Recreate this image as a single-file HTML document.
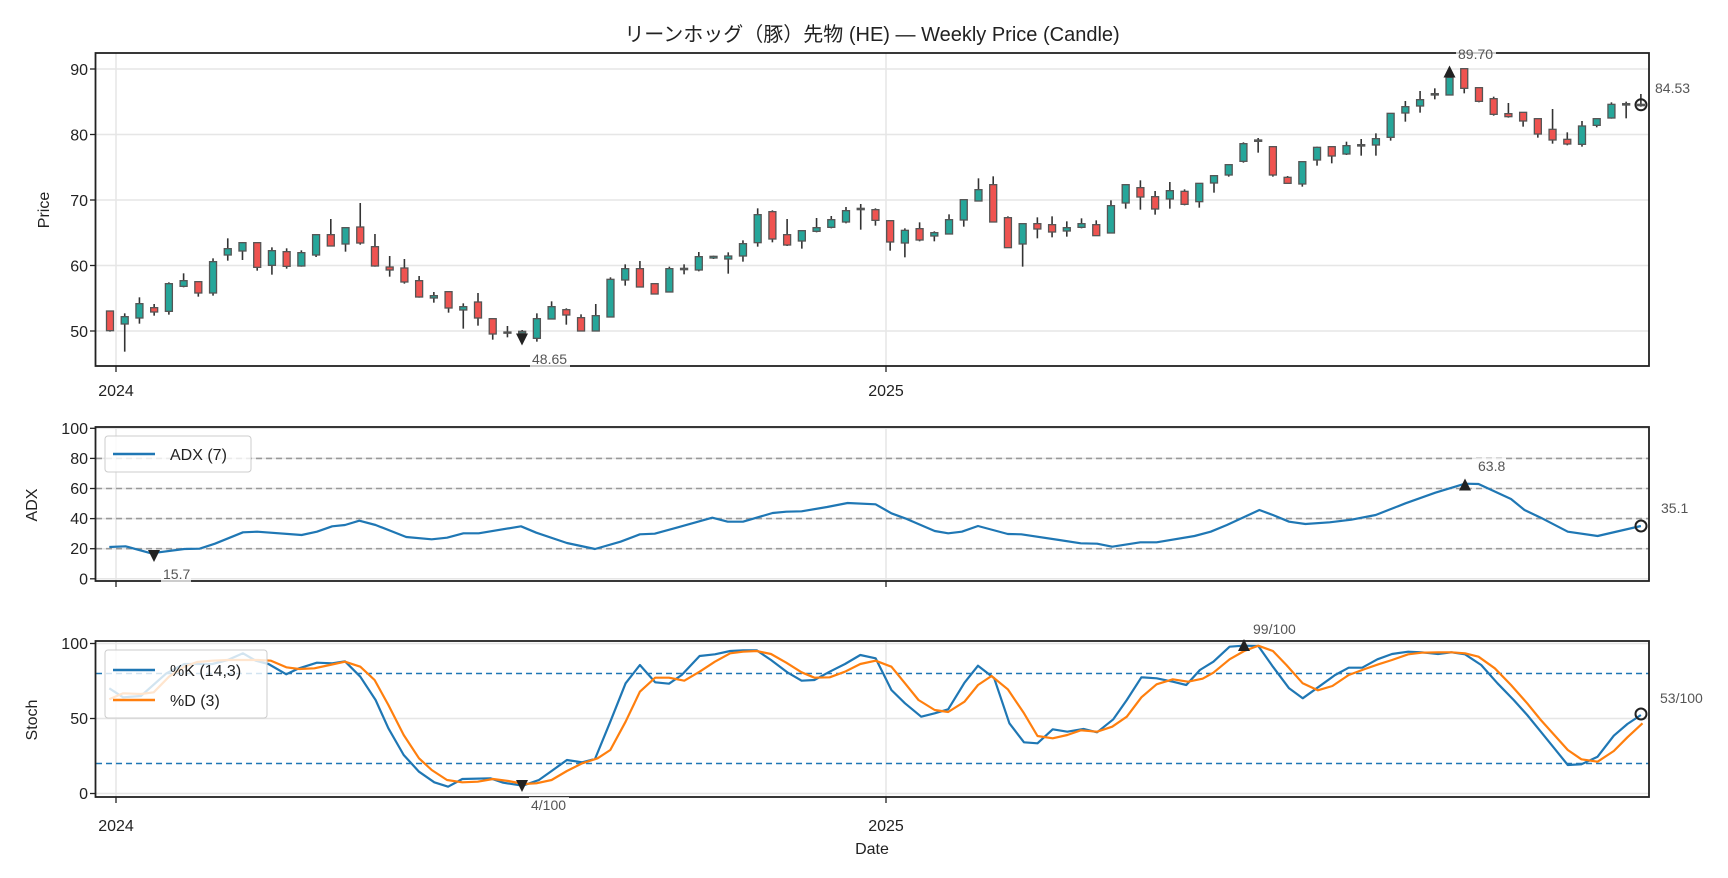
<!DOCTYPE html>
<html><head><meta charset="utf-8">
<style>
html,body{margin:0;padding:0;background:#fff;}
svg{display:block;font-family:"Liberation Sans","Noto Sans CJK JP",sans-serif;}
.t{font-size:16px;fill:#222;}
.a{font-size:14px;fill:#555;}
</style></head>
<body>
<svg id="s" width="1728" height="878" viewBox="0 0 1728 878" xmlns="http://www.w3.org/2000/svg">
<rect width="1728" height="878" fill="#fff"/>
<g id="grid" stroke="#e6e6e6" stroke-width="1.5"></g>
<g id="ref"></g>
<g id="series"></g>
<g id="frames" fill="none" stroke="#222" stroke-width="1.8">
<rect x="95.5" y="53" width="1553.5" height="313"/>
<rect x="95.5" y="427" width="1553.5" height="154"/>
<rect x="95.5" y="641" width="1553.5" height="156"/>
</g>
<g id="ticks" stroke="#222" stroke-width="1.3"></g>
<text x="872" y="41" text-anchor="middle" style="font-size:20px;fill:#222">リーンホッグ（豚）先物 (HE) — Weekly Price (Candle)</text>
<text class="t" transform="translate(49,210) rotate(-90)" text-anchor="middle">Price</text>
<text class="t" transform="translate(37,505) rotate(-90)" text-anchor="middle">ADX</text>
<text class="t" transform="translate(37,720) rotate(-90)" text-anchor="middle">Stoch</text>
<text class="t" x="872" y="854" text-anchor="middle">Date</text>
<g class="t" text-anchor="middle">
<text x="116" y="396">2024</text><text x="886" y="396">2025</text>
<text x="116" y="831">2024</text><text x="886" y="831">2025</text>
</g>
<g class="t" text-anchor="end" id="ylab">
<text x="88" y="75">90</text><text x="88" y="140.5">80</text><text x="88" y="206">70</text><text x="88" y="271.5">60</text><text x="88" y="337">50</text>
<text x="88" y="434">100</text><text x="88" y="464">80</text><text x="88" y="494">60</text><text x="88" y="524">40</text><text x="88" y="554">20</text><text x="88" y="584.5">0</text>
<text x="88" y="649">100</text><text x="88" y="724">50</text><text x="88" y="799">0</text>
</g>
<g id="ann"></g>
<rect x="105" y="436" width="146" height="36" rx="3" fill="#fff" fill-opacity="0.8" stroke="#ccc"/>
<line x1="113" y1="454" x2="155" y2="454" stroke="#1f77b4" stroke-width="2.5"/>
<text class="t" x="170" y="460">ADX (7)</text>
<rect x="105" y="650" width="162" height="68" rx="3" fill="#fff" fill-opacity="0.8" stroke="#ccc"/>
<line x1="113" y1="670" x2="155" y2="670" stroke="#1f77b4" stroke-width="2.5"/>
<text class="t" x="170" y="676">%K (14,3)</text>
<line x1="113" y1="700" x2="155" y2="700" stroke="#ff7f0e" stroke-width="2.5"/>
<text class="t" x="170" y="706">%D (3)</text>
</svg>
<script>
var NS="http://www.w3.org/2000/svg";
function el(p,t,a){var e=document.createElementNS(NS,t);for(var k in a)e.setAttribute(k,a[k]);document.getElementById(p).appendChild(e);return e;}
[116,886].forEach(function(x){[[53,366],[427,581],[641,797]].forEach(function(r){el('grid','line',{x1:x,x2:x,y1:r[0],y2:r[1]});});
 [[366,372],[581,587],[797,803]].forEach(function(r){el('ticks','line',{x1:x,x2:x,y1:r[0],y2:r[1]});});});
var py=[69,134.5,200,265.5,331],ay=[428.3,458.4,488.5,518.6,548.7,578.8],sy=[643.5,718.5,793.5];
py.concat(ay,sy).forEach(function(y){el('grid','line',{x1:96,x2:1649,y1:y,y2:y});el('ticks','line',{x1:90,x2:95,y1:y,y2:y});});
[458.4,488.5,518.6,548.7].forEach(function(y){el('ref','line',{x1:96,x2:1649,y1:y,y2:y,stroke:'#999','stroke-width':1.6,'stroke-dasharray':'6,4'});});
[673.5,763.5].forEach(function(y){el('ref','line',{x1:96,x2:1649,y1:y,y2:y,stroke:'#1f77b4','stroke-width':1.6,'stroke-dasharray':'6,4'});});
var C=[
[393,452,393,455,'r'],[410,432,400,515,'g'],[371,414,352,431,'g'],[383,396,372,407,'r'],[311,394,307,404,'g'],[302,319,280,322,'g'],[305,339,305,350,'r'],[245,339,235,347,'g'],[206,225,175,242,'g'],[188,213,186,240,'g'],[188,262,188,272,'r'],[212,256,202,284,'g'],[215,259,205,266,'r'],[218,258,211,260,'g'],[164,225,164,231,'g'],[164,198,117,198,'r'],[143,192,143,215,'g'],[141,189,69,194,'r'],[200,258,162,260,'r'],[261,270,228,290,'r'],[264,306,237,311,'r'],[302,351,288,353,'r'],[347,354,336,368,'g'],[335,384,335,398,'r'],[380,390,370,446,'g'],[366,414,339,437,'r'],[416,462,416,479,'r'],
[516,519,498,532,'g'],[514,519,510,522,'g'],[476,535,460,545,'g'],[440,477,424,477,'g'],[449,465,445,494,'r'],[473,513,463,513,'r'],[467,513,432,513,'g'],[358,471,352,471,'g'],[326,360,313,377,'g'],[326,381,303,381,'r'],[371,402,371,402,'r'],[326,396,320,396,'g'],[325,329,313,343,'g'],[290,330,276,334,'g'],[289,294,287,297,'g'],[288,297,277,341,'g'],[251,288,241,305,'g'],[164,248,145,260,'g'],[155,237,151,247,'r'],[224,255,177,258,'r'],[212,243,212,266,'g'],[203,214,174,217,'g'],[179,202,168,205,'g'],[152,186,141,190,'g'],[145,149,132,209,'g'],[149,181,145,197,'r'],
[302,366,302,392,'r'],[331,369,325,412,'g'],[326,360,307,364,'r'],[338,348,334,364,'g'],[299,342,283,342,'g'],[239,300,239,320,'g'],[209,243,175,243,'g'],[194,306,169,306,'r'],[293,383,289,383,'r'],[311,372,311,440,'g'],[311,327,292,355,'r'],[314,336,289,352,'r'],[323,333,304,350,'g'],[311,322,295,325,'g'],[314,347,301,347,'r'],[257,339,241,339,'g'],[194,249,194,266,'g'],[203,231,181,269,'r'],[230,267,213,284,'r'],[212,237,186,266,'g'],[214,253,208,256,'r'],[190,245,190,263,'g'],[167,189,165,218,'g'],[134,165,134,170,'g'],[71,124,67,128,'g'],[60,64,54,98,'g'],[80,165,78,170,'r'],
[412,430,408,430,'r'],[365,432,365,440,'g'],[322,360,320,377,'g'],[320,348,320,370,'r'],[317,342,305,345,'g'],[314,318,297,347,'g'],[296,315,280,347,'g'],[220,292,220,302,'g'],[200,219,183,245,'g'],[179,198,153,218,'g'],[161,165,145,178,'g'],[112,165,100,165,'g'],[86,145,86,160,'r'],[143,184,143,187,'r'],[176,223,170,227,'r'],[221,230,189,233,'r'],[217,243,217,260,'r'],[236,282,236,293,'r'],[268,300,207,311,'r'],[298,312,277,316,'r'],[258,313,243,320,'g'],[236,256,236,262,'g'],[193,234,187,236,'g'],[191,195,185,235,'g'],[193,197,162,200,'g']];
C.forEach(function(c,i){var y0=i<27?180:i<53?160:i<80?120:40;var x=110+i*14.72;
 var bt=y0+c[0]/3,bb=y0+c[1]/3,wt=y0+c[2]/3,wb=y0+c[3]/3;if(bb-bt<1.2){bb=bt+1.2;}
 el('series','line',{x1:x,x2:x,y1:wt,y2:wb,stroke:'#333','stroke-width':1.6});
 el('series','rect',{x:x-3.5,y:bt,width:7,height:bb-bt,fill:c[4]=='g'?'#26a69a':'#ef5350',stroke:'#555','stroke-width':1.3});});
function pl(pts,col){var s=pts.map(function(q){return q[0].toFixed(1)+','+q[1].toFixed(1);}).join(' ');
 el('series','polyline',{points:s,fill:'none',stroke:col,'stroke-width':2.2,'stroke-linejoin':'round'});}
var L8=function(p){return[95+p[0]/1.96,425+p[1]/3];},R9=function(p){return[880.6+p[0]/1.848,425+p[1]/3];};
var L10=function(p){return[95+p[0]/1.96,640+p[1]/3];},R11=function(p){return[880.6+p[0]/1.848,620+p[1]/3];};
function join(a,b){return a.filter(function(q){return q[0]<=886;}).concat(b.filter(function(q){return q[0]>886;}));}
var adxL=[[28,366],[60,364],[110,385],[175,372],[205,371],[235,356],[290,322],[318,320],[405,330],[435,320],[465,304],[490,300],[518,287],[550,300],[610,336],[660,343],[690,338],[722,325],[752,325],[835,304],[865,323],[925,354],[980,372],[1030,350],[1068,328],[1097,326],[1140,308],[1210,278],[1240,290],[1270,290],[1328,264],[1355,260],[1385,259],[1435,246],[1475,234],[1530,238],[1568,270]];
var adxR=[[0,245],[20,265],[45,280],[100,318],[125,325],[150,320],[180,303],[235,327],[260,328],[330,345],[370,355],[400,356],[428,365],[480,352],[510,352],[580,333],[610,320],[640,300],[700,255],[725,270],[755,290],[785,297],[830,292],[870,284],[915,270],[970,235],[1025,203],[1080,176],[1105,177],[1165,222],[1190,255],[1220,278],[1270,320],[1325,333],[1405,303]];
pl(join(adxL.map(L8),adxR.map(R9)),'#1f77b4');
var kL=[[28,145],[55,172],[90,168],[140,100],[175,72],[230,72],[260,60],[290,40],[315,62],[340,72],[375,103],[400,85],[435,68],[465,70],[490,64],[520,110],[550,180],[575,265],[605,345],[635,395],[665,427],[692,440],[720,417],[775,415],[800,428],[838,437],[870,420],[895,393],[925,360],[955,367],[980,357],[1010,245],[1040,130],[1068,75],[1098,127],[1125,131],[1150,105],[1185,48],[1215,43],[1245,33],[1270,31],[1297,31],[1325,60],[1358,98],[1385,122],[1410,120],[1440,95],[1470,72],[1500,45],[1530,55],[1555,125],[1568,150]];
var dL=[[28,178],[55,160],[90,162],[115,157],[145,110],[175,80],[200,66],[230,62],[260,60],[290,60],[320,60],[345,62],[375,82],[400,87],[430,85],[460,75],[490,65],[520,80],[548,120],[575,195],[605,285],[635,355],[660,390],[690,420],[720,427],[750,425],[780,417],[810,423],[840,432],[865,430],[895,420],[925,393],[955,370],[985,355],[1010,330],[1040,245],[1068,155],[1098,113],[1125,113],[1155,122],[1185,95],[1215,65],[1245,40],[1270,35],[1297,33],[1325,42],[1355,68],[1385,97],[1410,113],[1440,112],[1470,95],[1500,72],[1530,62],[1568,98]];
var kR=[[0,135],[20,210],[45,250],[75,290],[100,280],[125,268],[155,188],[180,137],[210,175],[238,310],[265,367],[290,370],[318,328],[345,335],[375,327],[400,337],[430,298],[455,240],[482,172],[510,175],[540,185],[565,195],[590,150],[615,125],[645,80],[670,77],[698,78],[725,140],[755,205],[780,235],[810,200],[840,165],[865,143],[890,143],[918,118],[945,102],[975,95],[1000,97],[1030,102],[1055,97],[1080,103],[1110,135],[1140,190],[1170,240],[1195,285],[1220,335],[1245,385],[1270,435],[1295,433],[1325,410],[1355,347],[1380,312],[1405,285]];
var dR=[[0,125],[20,140],[45,190],[70,240],[100,270],[125,276],[155,245],[180,195],[205,168],[235,208],[265,280],[290,348],[318,355],[345,345],[370,331],[400,335],[428,320],[455,290],[482,232],[510,193],[540,178],[568,185],[595,176],[615,158],[645,118],[672,93],[698,77],[725,93],[750,135],[780,190],[808,211],[835,198],[865,165],[895,147],[920,133],[945,120],[975,103],[1000,98],[1030,97],[1055,97],[1080,100],[1105,110],[1135,145],[1165,195],[1195,250],[1220,300],[1245,345],[1270,390],[1295,418],[1325,425],[1355,393],[1380,352],[1408,310]];
pl(join(kL.map(L10),kR.map(R11)),'#1f77b4');
pl(join(dL.map(L10),dR.map(R11)),'#ff7f0e');
function tri(x,y,up){var h=6;var d=up?'M'+(x-6)+','+(y+h)+' L'+(x+6)+','+(y+h)+' L'+x+','+(y-h)+'Z':'M'+(x-6)+','+(y-h)+' L'+(x+6)+','+(y-h)+' L'+x+','+(y+h)+'Z';el('ann','path',{d:d,fill:'#222'});}
function lab(x,y,t,w){el('ann','rect',{x:x-2,y:y-13,width:w,height:16,fill:'#fff','fill-opacity':0.75});var e=el('ann','text',{x:x,y:y,'class':'a'});e.textContent=t;}
function circ(x,y){el('ann','circle',{cx:x,cy:y,r:5.5,fill:'none',stroke:'#222','stroke-width':2});}
tri(522,339.5,false);lab(532,364,'48.65',40);
tri(1449.5,71.5,true);lab(1458,59,'89.70',40);
circ(1641,104.8);lab(1655,93,'84.53',40);
tri(154,556,false);lab(163,579,'15.7',30);
tri(1465,484.5,true);lab(1478,471,'63.8',30);
circ(1641,526);lab(1661,513,'35.1',30);
tri(522,786,false);lab(531,810,'4/100',40);
tri(1244,645,true);lab(1253,634,'99/100',48);
circ(1641,714);lab(1660,703,'53/100',48);
</script>
</body></html>
